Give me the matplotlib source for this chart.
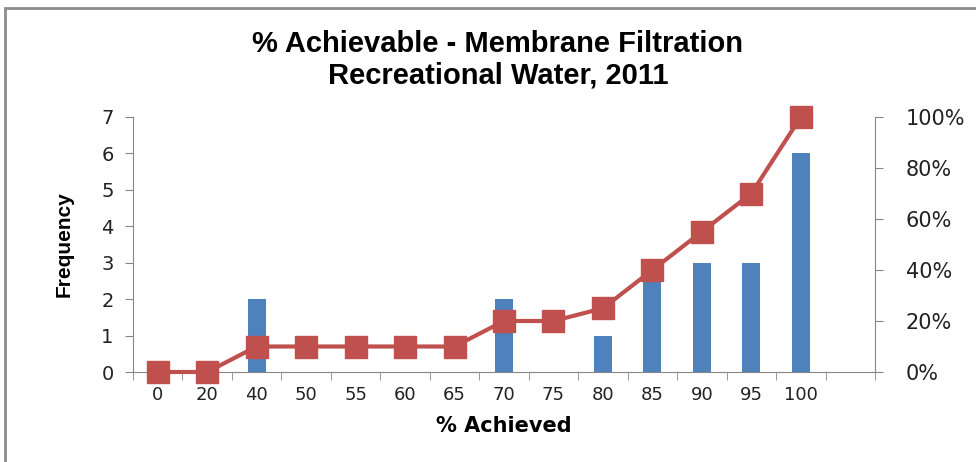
import numpy as np
import matplotlib.pyplot as plt
from matplotlib.patches import Rectangle
from matplotlib.ticker import FuncFormatter

categories = ['0', '20', '40', '50', '55', '60', '65', '70', '75', '80', '85', '90', '95', '100']
frequency = [0, 0, 2, 0, 0, 0, 0, 2, 0, 1, 3, 3, 3, 6]
cumulative_pct = [0, 0, 10, 10, 10, 10, 10, 20, 20, 25, 40, 55, 70, 100]

bar_color = '#4F81BD'
line_color = '#C0504D'
axis_color = '#868686'
title_font = ['Liberation Sans', 'DejaVu Sans']

fig = plt.figure(figsize=(9.76, 4.62), dpi=100)
fig.patches.append(Rectangle((5 / 976, -0.1), 1.2, 1 - 8 / 462 + 0.1, transform=fig.transFigure,
                             fill=False, edgecolor='#8c8c8c', linewidth=2))

ax = fig.add_axes([133 / 976, 1 - 372 / 462, (875 - 133) / 976, (372 - 117) / 462])
x = np.arange(len(categories))
ax.bar(x, frequency, width=0.36, color=bar_color, zorder=2)

ax.set_xlim(-0.5, len(categories) + 0.5)
ax.set_ylim(0, 7)
ax.set_yticks(range(0, 8))
ax.set_xticks(x)
ax.set_xticklabels(categories)
ax.set_xticks(np.arange(-0.5, len(categories) + 1), minor=True)
ax.tick_params(axis='x', which='major', length=0, pad=10, labelsize=13, labelcolor='#222222')
ax.tick_params(axis='x', which='minor', length=6, color=axis_color, direction='out')
ax.tick_params(axis='y', length=6, color=axis_color, pad=8, labelsize=14, labelcolor='#222222')

for side in ['top', 'right']:
    ax.spines[side].set_visible(False)
for side in ['left', 'bottom']:
    ax.spines[side].set_color(axis_color)

ax.set_xlabel('% Achieved', fontsize=15, fontweight='bold', labelpad=9)
ax.set_ylabel('Frequency', fontsize=15, fontweight='bold', family=title_font, labelpad=20)

ax2 = ax.twinx()
ax2.plot(x, [p / 100 for p in cumulative_pct], color=line_color, linewidth=3,
         marker='s', markersize=16, clip_on=False, zorder=3)
ax2.set_ylim(0, 1)
ax2.set_yticks(np.linspace(0, 1, 6))
ax2.yaxis.set_major_formatter(FuncFormatter(lambda v, p: f'{v * 100:.0f}%'))
ax2.tick_params(axis='y', length=6, color=axis_color, pad=16, labelsize=15, labelcolor='#222222')
for side in ['top', 'left', 'bottom']:
    ax2.spines[side].set_visible(False)
ax2.spines['right'].set_color(axis_color)

fig.text(0.51, 1 - 60 / 462, '% Achievable - Membrane Filtration\nRecreational Water, 2011',
         ha='center', va='center', fontsize=21, fontweight='bold', family=title_font,
         linespacing=1.15)

fig.savefig('out.png', dpi=100)
